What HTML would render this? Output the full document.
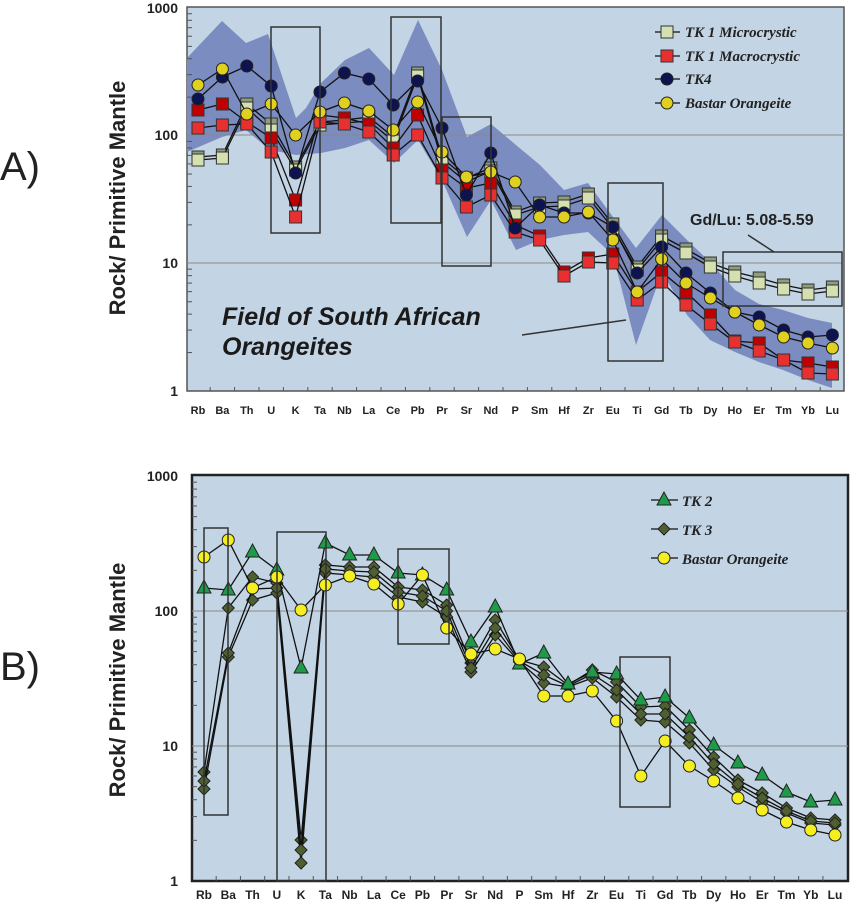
<!DOCTYPE html>
<html><head><meta charset="utf-8">
<style>html,body{margin:0;padding:0;background:#fff;}svg{display:block;}</style>
</head><body>
<svg id="s" width="850" height="905" xmlns="http://www.w3.org/2000/svg" font-family="Liberation Sans, sans-serif">
<rect x="187" y="7" width="657" height="384" fill="#c3d4e4" stroke="#555" stroke-width="1.5"/>
<polygon fill="#7b8cc0" points="187,58 222,21 246,43 268,34 296,118 306,108 321,83 345,60 369,48 394,75 418,20 442,70 467,137 491,124 516,145 540,165 564,190 588,183 613,217 636,248 662,215 687,240 710,262 735,290 759,304 783,310 808,318 832,323 832,388 808,380 783,370 759,362 735,352 710,340 687,315 662,272 636,345 613,255 588,232 564,235 540,240 516,250 491,200 467,237 442,180 418,140 394,163 369,140 345,148 321,153 296,155 270,150 246,130 222,137 187,152"/>
<line x1="187" y1="135" x2="844" y2="135" stroke="#888" stroke-width="1"/>
<line x1="187" y1="263" x2="844" y2="263" stroke="#888" stroke-width="1"/>
<rect x="192" y="475" width="656" height="406" fill="#c3d4e4" stroke="#222" stroke-width="2.5"/>
<line x1="192" y1="611" x2="848" y2="611" stroke="#888" stroke-width="1"/>
<line x1="192" y1="746" x2="848" y2="746" stroke="#888" stroke-width="1"/>
<g id="g"></g>
<g font-weight="bold" font-size="14" text-anchor="end" fill="#222">
<text x="178" y="13">1000</text><text x="178" y="140">100</text><text x="178" y="268">10</text><text x="178" y="396">1</text>
<text x="178" y="481">1000</text><text x="178" y="616">100</text><text x="178" y="751">10</text><text x="178" y="886">1</text>
</g>
<text transform="translate(125,198) rotate(-90)" text-anchor="middle" font-weight="bold" font-size="22" fill="#222">Rock/ Primitive Mantle</text>
<text transform="translate(125,680) rotate(-90)" text-anchor="middle" font-weight="bold" font-size="22" fill="#222">Rock/ Primitive Mantle</text>
<text x="0" y="180" font-size="40" fill="#222">A)</text>
<text x="0" y="680" font-size="40" fill="#222">B)</text>
<g fill="none" stroke="#333" stroke-width="1.5">
<rect x="271" y="27" width="49" height="206"/><rect x="391" y="17" width="50" height="206"/><rect x="442" y="117" width="49" height="149"/><rect x="608" y="183" width="55" height="178"/><rect x="723" y="252" width="119" height="54"/>
<line x1="748" y1="235" x2="774" y2="252"/><line x1="522" y1="335" x2="626" y2="320"/>
<rect x="204" y="528" width="24" height="287"/><rect x="277" y="532" width="49" height="349"/><rect x="398" y="549" width="51" height="95"/><rect x="620" y="657" width="50" height="150"/>
</g>
<text x="690" y="225" font-weight="bold" font-size="16" fill="#222">Gd/Lu: 5.08-5.59</text>
<g font-weight="bold" font-style="italic" font-size="25" fill="#1a1a1a"><text x="222" y="325">Field of South African</text><text x="222" y="355">Orangeites</text></g>
<g font-family="Liberation Serif, serif" font-weight="bold" font-style="italic" font-size="15" fill="#222">
<text x="685" y="37">TK 1 Microcrystic</text><text x="685" y="61">TK 1 Macrocrystic</text><text x="685" y="84">TK4</text><text x="685" y="108">Bastar Orangeite</text>
<text x="682" y="506">TK 2</text><text x="682" y="535">TK 3</text><text x="682" y="564">Bastar Orangeite</text>
</g>
</svg>
<script>
var g=document.getElementById('g'),NS='http://www.w3.org/2000/svg',h='';
var el=['Rb','Ba','Th','U','K','Ta','Nb','La','Ce','Pb','Pr','Sr','Nd','P','Sm','Hf','Zr','Eu','Ti','Gd','Tb','Dy','Ho','Er','Tm','Yb','Lu'];
function xa(i){return 198+i*24.4}function xb(i){return 204+i*24.27}
function mk(t,x,y,f){
 if(t=='s')return '<rect x="'+(x-6)+'" y="'+(y-6)+'" width="12" height="12" fill="'+f+'" stroke="#333" stroke-width="1"/>';
 if(t=='c')return '<circle cx="'+x+'" cy="'+y+'" r="6" fill="'+f+'" stroke="#222" stroke-width="1"/>';
 if(t=='t')return '<polygon points="'+x+','+(y-8)+' '+(x-7)+','+(y+5)+' '+(x+7)+','+(y+5)+'" fill="'+f+'" stroke="#222" stroke-width="1"/>';
 return '<polygon points="'+x+','+(y-6)+' '+(x+6)+','+y+' '+x+','+(y+6)+' '+(x-6)+','+y+'" fill="'+f+'" stroke="#222" stroke-width="1"/>';
}
function ser(xf,ys,t,f){var p=ys.map(function(y,i){return xf(i)+','+y}).join(' ');
 h+='<polyline points="'+p+'" fill="none" stroke="#111" stroke-width="1.3"/>';
 ys.forEach(function(y,i){h+=mk(t,xf(i),y,f)});}
// Panel A
ser(xa,[157,155,104,124,167,122,120,117,137,73,158,178,168,212,203,202,194,224,267,236,249,263,272,278,285,290,287],'s','#8e9e7c');
ser(xa,[160,158,108,130,170,125,123,121,141,76,162,182,171,215,207,206,198,228,270,240,253,267,276,283,289,294,291],'s','#d4e0b0');
ser(xa,[110,104,122,138,200,115,118,124,148,115,170,188,183,225,236,272,258,254,292,272,292,315,341,343,360,363,367],'s','#c00000');
ser(xa,[128,125,124,152,217,122,124,132,155,135,178,207,195,232,240,276,262,263,300,282,305,324,342,351,360,373,374],'s','#e83030');
ser(xa,[99,77,66,86,173,92,73,79,105,81,128,195,153,228,205,213,213,227,273,247,273,293,312,317,330,337,335],'c','#0d1250');
ser(xa,[85,69,114,104,135,112,103,111,130,102,152,177,172,182,217,217,212,240,292,259,283,298,312,325,337,343,348],'c','#e0d020');
// Panel B
var d1=[772,608,577,583,840,565,567,567,587,590,605,663,620,660,667,685,670,682,707,706,730,757,780,793,808,818,820];
var d2=[789,657,600,593,863,573,575,577,597,602,617,672,635,662,683,687,678,697,720,722,743,770,787,802,813,823,825];
var d3=d1.map(function(v,i){return Math.round((v+d2[i])/2)});d3[4]=850;d3[1]=653;
ser(xb,d1,'d','#4f6030');ser(xb,d2,'d','#4f6030');ser(xb,d3,'d','#4f6030');
ser(xb,[588,590,552,570,668,543,555,555,573,575,590,642,607,664,653,684,672,674,700,697,718,745,763,775,792,802,800],'t','#1f9a4a');
ser(xb,[557,540,588,577,610,585,576,584,604,575,628,654,649,659,696,696,691,721,776,741,766,781,798,810,822,830,835],'c','#f5ee20');
// axes ticks and labels
el.forEach(function(e,i){
 h+='<text x="'+xa(i)+'" y="414" text-anchor="middle" font-weight="bold" font-size="11" fill="#222">'+e+'</text>';
 h+='<text x="'+xb(i)+'" y="899" text-anchor="middle" font-weight="bold" font-size="12" fill="#222">'+e+'</text>';
 if(i>0){h+='<line x1="'+(xa(i)-12.2)+'" y1="391" x2="'+(xa(i)-12.2)+'" y2="387" stroke="#555"/>';
 h+='<line x1="'+(xb(i)-12.1)+'" y1="881" x2="'+(xb(i)-12.1)+'" y2="876" stroke="#555"/>';}
});
for(var d=0;d<3;d++)for(var k=2;k<10;k++){var l=Math.log10(k)+d;
 var ya=391-127.7*l,yb=881-135*l;
 h+='<line x1="187" y1="'+ya+'" x2="192" y2="'+ya+'" stroke="#555"/>';
 h+='<line x1="192" y1="'+yb+'" x2="197" y2="'+yb+'" stroke="#555"/>';}
// legends
var LA=[[37,'s','#d4e0b0'],[61,'s','#e83030'],[84,'c','#0d1250'],[108,'c','#e0d020']];
LA.forEach(function(a){h+='<line x1="655" y1="'+(a[0]-5)+'" x2="680" y2="'+(a[0]-5)+'" stroke="#111" stroke-width="1.3"/>'+mk(a[1],667,a[0]-5,a[2]);});
var LB=[[506,'t','#1f9a4a'],[535,'d','#4f6030'],[564,'c','#f5ee20']];
LB.forEach(function(a){h+='<line x1="651" y1="'+(a[0]-6)+'" x2="678" y2="'+(a[0]-6)+'" stroke="#111" stroke-width="1.3"/>'+mk(a[1],664,a[0]-6,a[2]);});
g.innerHTML=h;
</script>
</body></html>
